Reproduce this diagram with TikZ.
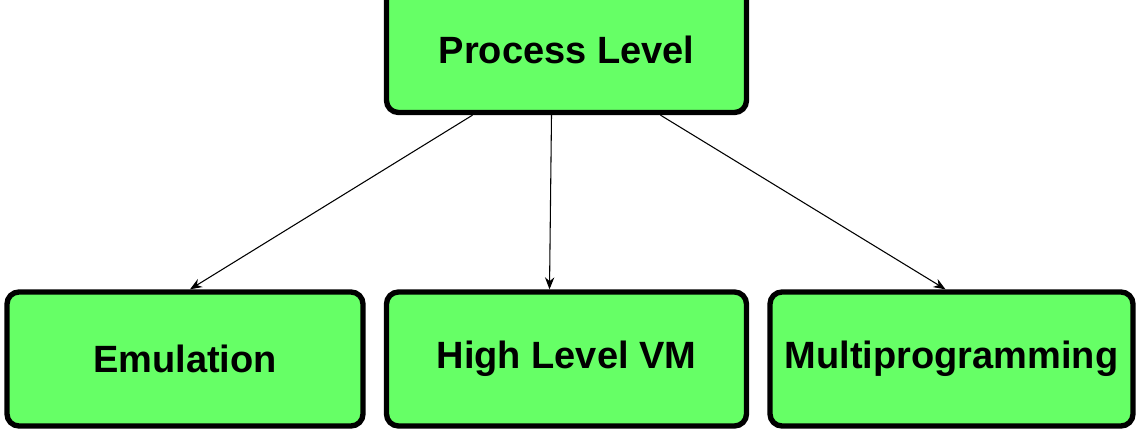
\documentclass[tikz,border=0pt]{standalone}
\usepackage{fontspec}
\setmainfont{Liberation Sans}
\usetikzlibrary{calc,arrows.meta}
\begin{document}
\begin{tikzpicture}[x=0.75pt,y=-0.75pt,
  box/.style={draw=black,line width=4pt,fill={rgb,255:red,102;green,255;blue,102},rounded corners=9pt,
    font=\fontsize{28.5}{32}\selectfont\bfseries,inner sep=0pt},
  arr/.style={-{Stealth[length=9pt,width=7pt]},line width=0.8pt}]
\useasboundingbox (0,0) rectangle (1144,441);
\node[box,minimum width=360*0.75pt,minimum height=125*0.75pt] (top) at (566.5,50) {Process Level};
\node[box,minimum width=356*0.75pt,minimum height=134*0.75pt] (e) at (185,359) {Emulation};
\node[box,minimum width=360*0.75pt,minimum height=134*0.75pt] (h) at (566.5,359) {High Level VM};
\node[box,minimum width=363*0.75pt,minimum height=134*0.75pt] (m) at (951.5,359) {Multiprogramming};
\draw[arr] ($(top.south)+(-94,0)$) -- ($(e.north)+(5,0)$);
\draw[arr] ($(top.south)+(-15,0)$) -- ($(h.north)+(-17,0)$);
\draw[arr] ($(top.south)+(94,0)$) -- ($(m.north)+(-6,0)$);
\end{tikzpicture}
\end{document}
